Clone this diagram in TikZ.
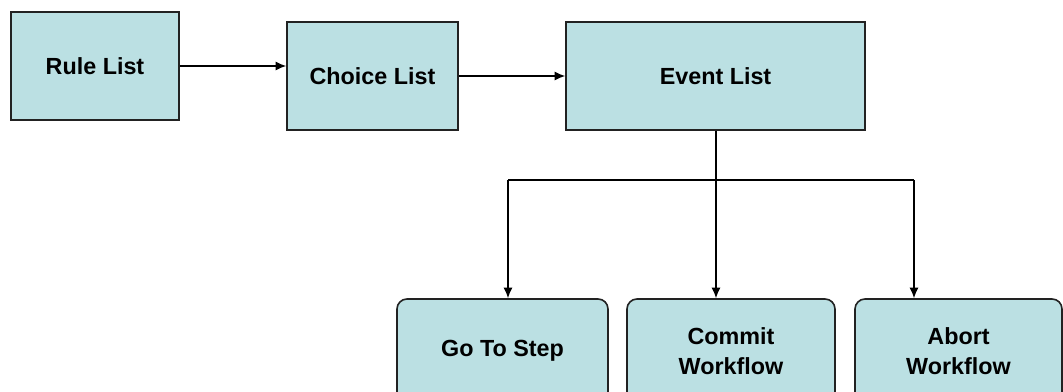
\documentclass[tikz,border=0pt]{standalone}
\usepackage{fontspec}
\setmainfont{Liberation Sans}
\usetikzlibrary{arrows.meta}
\definecolor{listfill}{HTML}{BBE0E3}
\definecolor{listedge}{HTML}{222222}

\begin{document}
\begin{tikzpicture}[x=0.75pt, y=-0.75pt,
    listbox/.style={draw=listedge, line width=1.2pt, fill=listfill, minimum height=81pt,
      font=\bfseries\fontsize{17.5}{22.5}\selectfont, align=center, inner sep=2pt},
    actbox/.style={listbox, rounded corners=7.5pt, minimum height=78pt},
    link/.style={line width=1.1pt, -{Latex[length=8pt, width=7pt]}}]
            \useasboundingbox (0, 0) rectangle (1063, 392);
            \node[listbox, minimum width=126pt] (rule) at (95, 66) {Rule List};
            \node[listbox, minimum width=128.25pt] (choice) at (372.5, 76) {Choice List};
            \node[listbox, minimum width=224.25pt] (event) at (715.5, 76) {Event List};
            \node[actbox, minimum width=158.25pt] (goto) at (502.5, 351) {Go To Step};
            \node[actbox, minimum width=156pt] (commit) at (731, 351) {Commit\\Workflow};
            \node[actbox, minimum width=155.25pt] (abort) at (958.5, 351) {Abort\\Workflow};
            \coordinate (busL) at (508, 180);
            \coordinate (busM) at (716, 180);
            \coordinate (busR) at (914, 180);
            \draw[link] (rule) -- (rule -| choice.west);
            \draw[link] (choice) -- (choice -| event.west);
            \draw[line width=1.1pt] (busL) -- (busR);
            \draw[link] (event.south -| busM) -- (busM |- commit.north);
            \draw[link] (busL) -- (busL |- goto.north);
            \draw[link] (busR) -- (busR |- abort.north);
          \end{tikzpicture}
\end{document}
